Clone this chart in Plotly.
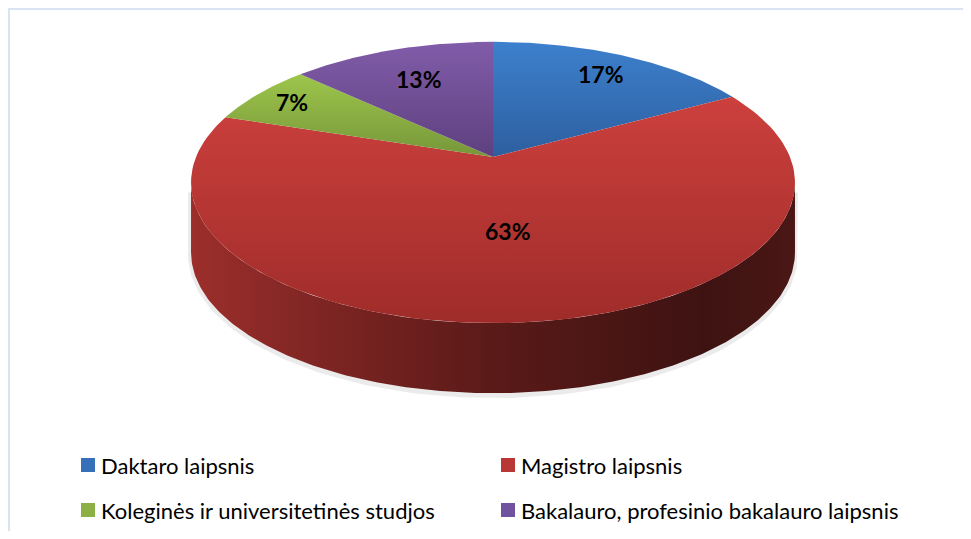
import numpy as np
import plotly.graph_objects as go

# ---- data ----
categories = [
    "Daktaro laipsnis",
    "Magistro laipsnis",
    "Koleginės ir universitetinės studjos",
    "Bakalauro, profesinio bakalauro laipsnis",
]
values = [17, 63, 7, 13]

# ---- style ----
top_colors = [("#3d80cd", "#2d5f9f"), ("#cc403d", "#9f2c2a"),
              ("#9dc64b", "#77963a"), ("#815ca9", "#5e407f")]
swatch = ["#3570b8", "#b93836", "#8cb043", "#7152a0"]
label_r = [0.8, 0.5, 0.85, 0.7]

W, H = 971, 539            # window size
OFF = 8                    # page body margin
FW, FH = W - 2 * OFF, H - 2 * OFF
CX, CY = 493, 157          # projected pie centre (pixels)
F, D = 1456.0, 4.903       # perspective
SPHI = 0.458
CPHI = np.sqrt(1 - SPHI ** 2)
DEPTH = 70                 # side height in pixels


def proj(r, th):
    den = D + r * np.cos(th) * CPHI
    u = F * r * np.sin(th) / den
    w = F * r * np.cos(th) * SPHI / den
    return CX + u, CY - w


fig = go.Figure()

total = float(sum(values))
bounds = np.concatenate([[0], np.cumsum(values)]) / total * 2 * np.pi

# side (front visible part)
th_r = np.arccos(-CPHI / D)
th_l = 2 * np.pi - th_r
ts = np.linspace(th_r, th_l, 200)
xt, yt = proj(1.0, ts)
side_x = np.concatenate([xt, xt[::-1]])
side_y = np.concatenate([yt, yt[::-1] + DEPTH])

# soft shadow around the side
shx = np.concatenate([[xt[0]], xt, [xt[-1]]])
shy = np.concatenate([[yt[0] + 10], yt + DEPTH + 2, [yt[-1] + 10]])
fig.add_trace(go.Scatter(x=shx, y=shy, mode="lines",
                         line=dict(color="rgba(0,0,0,0.08)", width=6),
                         hoverinfo="skip", showlegend=False))
fig.add_trace(go.Scatter(x=side_x, y=side_y, fill="toself", mode="lines",
                         line=dict(width=0),
                         fillgradient=dict(type="horizontal", colorscale=[
                             [0, "#9c2e2b"], [0.2, "#802624"], [0.5, "#5a1a18"],
                             [0.85, "#3d1312"], [1, "#4a1715"]]),
                         hoverinfo="skip", showlegend=False))

# top face slices
for i, cat in enumerate(categories):
    t = np.linspace(bounds[i], bounds[i + 1], 120)
    ax_, ay_ = proj(1.0, t)
    sx = np.concatenate([[CX], ax_, [CX]])
    sy = np.concatenate([[CY], ay_, [CY]])
    c1, c2 = top_colors[i]
    fig.add_trace(go.Scatter(x=sx, y=sy, fill="toself", mode="lines",
                             line=dict(width=0),
                             fillgradient=dict(type="vertical",
                                               colorscale=[[0, c2], [1, c1]]),
                             name=cat, hoverinfo="name", showlegend=False))

# labels
for i, v in enumerate(values):
    mid = (bounds[i] + bounds[i + 1]) / 2
    lx, ly = proj(label_r[i], mid)
    fig.add_annotation(x=lx, y=ly, text=f"<b>{round(v / total * 100)}%</b>",
                       showarrow=False, xanchor="center", yanchor="middle",
                       font=dict(family="Lato", size=23, color="black"))

# legend
for i, cat in enumerate(categories):
    col, row = i % 2, i // 2
    mx = 88 + col * 420
    my = 465 + row * 45
    fig.add_shape(type="rect", x0=mx - 7, x1=mx + 7, y0=my - 7, y1=my + 7,
                  xref="x", yref="y", line=dict(width=0), fillcolor=swatch[i])
    fig.add_annotation(x=mx + 11, y=my, text=cat, showarrow=False,
                       xanchor="left", yanchor="middle",
                       font=dict(family="Lato", size=22, color="black"))

# chart border (top and left visible)
fig.add_shape(type="line", x0=9, x1=W, y0=9, y1=9, xref="x", yref="y",
              line=dict(color="#d9e3f1", width=2))
fig.add_shape(type="line", x0=9, x1=9, y0=8, y1=H, xref="x", yref="y",
              line=dict(color="#d9e3f1", width=2))

fig.update_layout(
    width=FW, height=FH, margin=dict(l=0, r=0, t=0, b=0),
    paper_bgcolor="white", plot_bgcolor="white", showlegend=False,
    xaxis=dict(range=[OFF, OFF + FW], visible=False, fixedrange=True),
    yaxis=dict(range=[OFF + FH, OFF], visible=False, fixedrange=True),
)
fig.write_html("out.html")
